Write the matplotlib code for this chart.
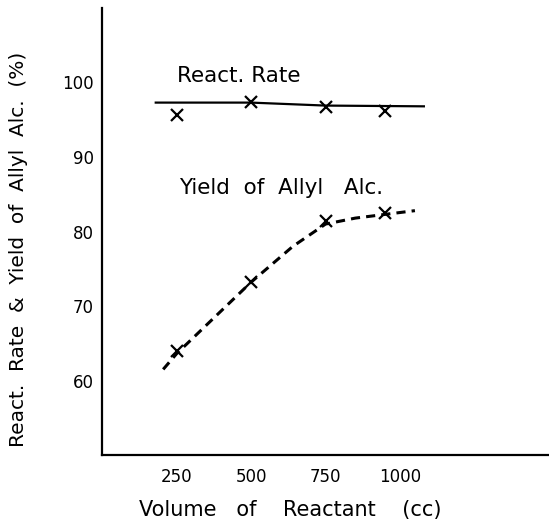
import matplotlib

matplotlib.use("Agg")

import matplotlib.pyplot as plt

# measured points (x marks)
volume = [250, 500, 750, 950]
rate_pts = [95.6, 97.4, 96.7, 96.2]
yield_pts = [63.9, 73.2, 81.4, 82.5]

# hand-drawn curves through the points
rate_line_x = [180, 500, 750, 1080]
rate_line_y = [97.3, 97.3, 96.9, 96.8]
yield_line_x = [205, 250, 500, 640, 750, 850, 950, 1050]
yield_line_y = [61.5, 63.6, 73.2, 78.0, 81.0, 81.8, 82.3, 82.8]

x_ticks = [250, 500, 750, 1000]
y_ticks = [60, 70, 80, 90, 100]

plt.rcParams["font.family"] = ["DejaVu Sans"]

fig = plt.figure(figsize=(5.49, 5.31), dpi=100)
ax = fig.add_axes([0.186, 0.143, 0.814, 0.842])

ax.plot(rate_line_x, rate_line_y, color="black", lw=1.6)
ax.plot(volume, rate_pts, linestyle="none", marker="x", ms=8, mew=1.6, color="black")
ax.plot(yield_line_x, yield_line_y, color="black", lw=2.2, linestyle=(0, (3, 2)))
ax.plot(volume, yield_pts, linestyle="none", marker="x", ms=8, mew=1.6, color="black")

ax.text(250, 100.9, "React. Rate", fontsize=15.5, va="center", ha="left")
ax.text(257, 85.9, "Yield  of  Allyl   Alc.", fontsize=15.5, va="center", ha="left")

ax.set_xlim(0, 1500)
ax.set_ylim(50, 110)
ax.set_xticks(x_ticks)
ax.set_yticks(y_ticks)
ax.tick_params(length=0, labelsize=12)
ax.tick_params(axis="x", pad=9)
ax.tick_params(axis="y", pad=6)
for side in ("top", "right"):
    ax.spines[side].set_visible(False)
for side in ("left", "bottom"):
    ax.spines[side].set_linewidth(1.6)

ax.set_xlabel("Volume   of    Reactant    (cc)", fontsize=15)
ax.xaxis.set_label_coords(0.42, -0.1)
ax.set_ylabel("React.  Rate  &  Yield  of  Allyl  Alc.  (%)", fontsize=14.5)
ax.yaxis.set_label_coords(-0.165, 0.46)

fig.savefig("out.png", dpi=100)
